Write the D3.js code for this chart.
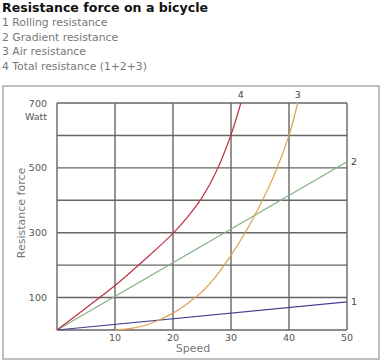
<!DOCTYPE html>
<html><head><meta charset="utf-8">
<script src="https://cdn.jsdelivr.net/npm/d3@7"></script>
<style>body{margin:0;background:#fff}svg{display:block}</style>
</head><body>
<script>
const title = "Resistance force on a bicycle";
const legendItems = ["1 Rolling resistance","2 Gradient resistance","3 Air resistance","4 Total resistance (1+2+3)"];
const xTicks = [10,20,30,40,50];
const yTickLabels = [100,300,500,700];
const yGrid = [100,200,300,400,500,600,700];
const rollingSpeed = [0,50];
const rollingForce = [0,87];
const gradientSpeed = [0,50];
const gradientForce = [0,519];
const airSpeed = [10,12.5,15,17.5,20,22.5,25,27.5,30,32.5,35,37.5,40,41.5];
const airForce = [0,4,13,30,52,82,118,168,230,302,385,480,600,700];
const totalSpeed = [0,5,10,15,20,22.5,25,27.5,30,31.7];
const totalForce = [0,68,137,215,298,348,408,490,602,700];

const W=382,H=361;
const svg=d3.select("body").append("svg").attr("width",W).attr("height",H);
const font="DejaVu Sans, Verdana, sans-serif";
svg.append("text").attr("x",2).attr("y",12).attr("font-family",font).attr("font-weight","bold")
  .attr("font-size",13).attr("textLength",206).attr("lengthAdjust","spacingAndGlyphs")
  .attr("fill","#111").text(title);
legendItems.forEach((t,i)=>svg.append("text").attr("x",2).attr("y",26+i*14.6)
  .attr("font-family",font).attr("font-size",10.8).attr("fill","#777").text(t));

svg.append("rect").attr("x",3).attr("y",86).attr("width",376).attr("height",273)
  .attr("fill","none").attr("stroke","#aaa").attr("stroke-width",1.5);

const x=d3.scaleLinear().domain([0,50]).range([57,347]);
const y=d3.scaleLinear().domain([0,700]).range([330,103]);
const g=svg.append("g");
g.selectAll(".vg").data([0].concat(xTicks)).join("line")
  .attr("x1",d=>x(d)).attr("x2",d=>x(d)).attr("y1",y(0)).attr("y2",y(700))
  .attr("stroke","#666").attr("stroke-width",1.4);
g.selectAll(".hg").data([0].concat(yGrid)).join("line")
  .attr("x1",x(0)).attr("x2",x(50)).attr("y1",d=>y(d)).attr("y2",d=>y(d))
  .attr("stroke","#666").attr("stroke-width",1.4);

svg.selectAll(".xt").data(xTicks).join("text").attr("x",d=>x(d)).attr("y",341)
  .attr("text-anchor","middle").attr("font-family",font).attr("font-size",9.5).attr("fill","#555").text(d=>d);
svg.selectAll(".yt").data(yTickLabels).join("text").attr("x",47).attr("y",d=>y(d)+3.5)
  .attr("text-anchor","end").attr("font-family",font).attr("font-size",9.5).attr("fill","#555").text(d=>d);
svg.append("text").attr("x",47).attr("y",120).attr("text-anchor","end").attr("font-family",font)
  .attr("font-size",9.5).attr("fill","#555").text("Watt");
svg.append("text").attr("x",193).attr("y",352).attr("text-anchor","middle").attr("font-family",font)
  .attr("font-size",11).attr("fill","#777").text("Speed");
svg.append("text").attr("transform","translate(25,213) rotate(-90)").attr("text-anchor","middle")
  .attr("font-family",font).attr("font-size",11).attr("fill","#777").text("Resistance force");

const series=[
  {sx:rollingSpeed,sy:rollingForce,c:"#404090",lab:"1",curve:d3.curveLinear},
  {sx:gradientSpeed,sy:gradientForce,c:"#80b080",lab:"2",curve:d3.curveLinear},
  {sx:airSpeed,sy:airForce,c:"#e0a050",lab:"3",curve:d3.curveCatmullRom},
  {sx:totalSpeed,sy:totalForce,c:"#c03040",lab:"4",curve:d3.curveCatmullRom}
];
series.forEach(s=>{
  const pts=s.sx.map((v,i)=>[v,s.sy[i]]);
  const line=d3.line().x(d=>x(d[0])).y(d=>y(d[1])).curve(s.curve);
  g.append("path").attr("d",line(pts)).attr("fill","none").attr("stroke",s.c).attr("stroke-width",1.2);
  const last=pts[pts.length-1];
  let lx,ly,anchor;
  if(last[1]>=700){lx=x(last[0]);ly=y(700)-5;anchor="middle";}
  else{lx=x(last[0])+4;ly=y(last[1])+3;anchor="start";}
  svg.append("text").attr("x",lx).attr("y",ly).attr("text-anchor",anchor).attr("font-family",font)
    .attr("font-size",9.5).attr("fill","#444").text(s.lab);
});
</script>
</body></html>
